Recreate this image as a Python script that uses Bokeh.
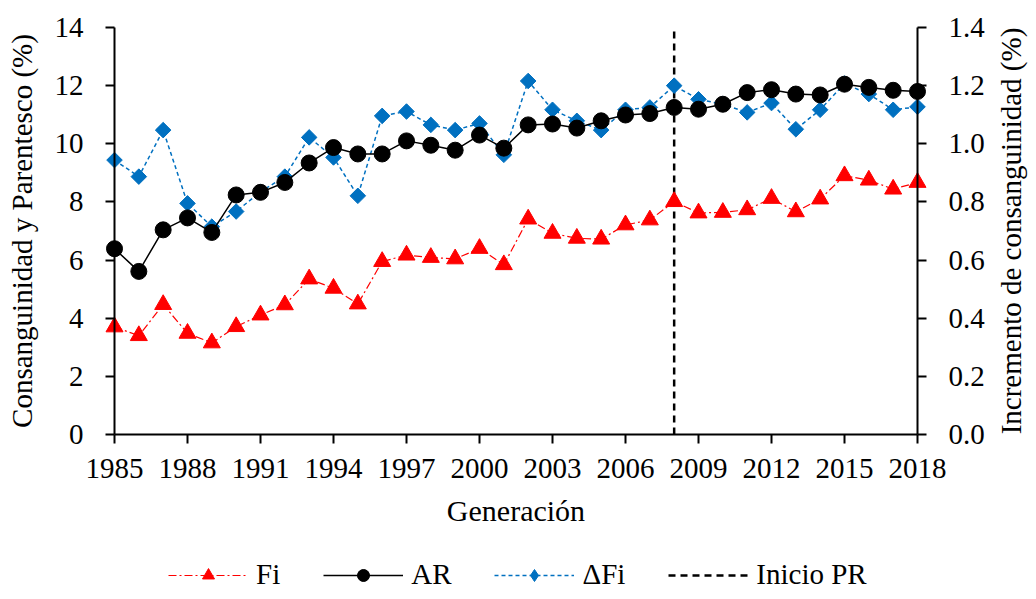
import math
from bokeh.plotting import figure
from bokeh.models import (Range1d, LinearAxis, FixedTicker, Legend, LegendItem,
                          NumeralTickFormatter, Label)
from bokeh.embed import file_html
from bokeh.resources import INLINE

# ---------------- data ----------------
years = list(range(1985, 2019))
fi = [3.70, 3.40, 4.47, 3.48, 3.15, 3.71, 4.11, 4.46, 5.35, 5.03, 4.49, 5.95,
      6.17, 6.09, 6.04, 6.40, 5.84, 7.41, 6.92, 6.75, 6.72, 7.21, 7.38, 8.01,
      7.62, 7.64, 7.73, 8.12, 7.66, 8.10, 8.90, 8.75, 8.44, 8.67]
ar = [6.39, 5.61, 7.04, 7.45, 6.95, 8.24, 8.33, 8.67, 9.34, 9.87, 9.65, 9.65,
      10.10, 9.95, 9.78, 10.30, 9.85, 10.65, 10.68, 10.54, 10.79, 10.99, 11.04, 11.25,
      11.19, 11.36, 11.76, 11.86, 11.71, 11.68, 12.05, 11.94, 11.84, 11.80]
dfi = [0.944, 0.887, 1.047, 0.795, 0.715, 0.767, 0.835, 0.887, 1.022, 0.953, 0.821, 1.096,
       1.111, 1.065, 1.047, 1.070, 0.962, 1.216, 1.117, 1.079, 1.047, 1.117, 1.125, 1.200,
       1.153, 1.136, 1.108, 1.140, 1.050, 1.117, 1.207, 1.171, 1.117, 1.127]
inicio_pr = 2008
x_ticks = list(range(1985, 2019, 3))
left_ticks = [0, 2, 4, 6, 8, 10, 12, 14]
right_ticks = [0.0, 0.2, 0.4, 0.6, 0.8, 1.0, 1.2, 1.4]
left_lim = (0, 14)
right_lim = (0.0, 1.4)
x_lim = (1985, 2018)
labels = ["Fi", "AR", "\u0394Fi", "Inicio PR"]
x_title = "Generación"
left_title = "Consanguinidad y Parentesco (%)"
right_title = "Incremento de consanguinidad (%)"

FONT = "Liberation Serif"
RED = "#FF0000"
BLUE = "#0070C0"

# ---------------- layout (pixels on the canvas) ----------------
W, H = 1028, 591
ax_left_px, ax_right_px = 114, 917      # canvas x of 1985 and 2018
ax_top_px, ax_bottom_px = 27, 434       # canvas y of 14 and 0

xs = (ax_right_px - ax_left_px) / (x_lim[1] - x_lim[0])
ys = (ax_bottom_px - ax_top_px) / (left_lim[1] - left_lim[0])
x_range = Range1d(x_lim[0] - ax_left_px / xs, x_lim[1] + (W - ax_right_px) / xs)
y_range = Range1d(left_lim[0] - (H - ax_bottom_px) / ys, left_lim[1] + ax_top_px / ys)
k = (right_lim[1] - right_lim[0]) / (left_lim[1] - left_lim[0])
r_range = Range1d(y_range.start * k, y_range.end * k)

p = figure(width=W, height=H, output_backend="svg", toolbar_location=None,
           x_range=x_range, y_range=y_range, min_border=0,
           background_fill_color="white", border_fill_color="white",
           outline_line_color=None)
p.xgrid.visible = False
p.ygrid.visible = False
p.extra_y_ranges = {"right": r_range}


def style_axis(ax, standoff, label_standoff, title_size="29px"):
    ax.axis_line_width = 2
    ax.axis_line_color = "black"
    ax.major_tick_line_width = 2
    ax.major_tick_line_color = "black"
    ax.major_tick_out = 9
    ax.major_tick_in = 0
    ax.minor_tick_out = 0
    ax.minor_tick_in = 0
    ax.minor_tick_line_color = None
    ax.major_label_text_font = FONT
    ax.major_label_text_font_size = "29px"
    ax.major_label_text_color = "black"
    ax.major_label_standoff = standoff
    ax.axis_label_text_font = FONT
    ax.axis_label_text_font_size = title_size
    ax.axis_label_text_font_style = "normal"
    ax.axis_label_text_color = "black"
    ax.axis_label_standoff = label_standoff


xa = p.xaxis[0]
xa.ticker = FixedTicker(ticks=x_ticks)
xa.fixed_location = left_lim[0]
xa.bounds = x_lim
xa.axis_label = x_title
style_axis(xa, 15, 13, title_size="30px")

ya = p.yaxis[0]
ya.ticker = FixedTicker(ticks=left_ticks)
ya.fixed_location = x_lim[0]
ya.bounds = left_lim
ya.axis_label = left_title
style_axis(ya, 22, 14)

ra = LinearAxis(y_range_name="right", fixed_location=x_lim[1],
                ticker=FixedTicker(ticks=right_ticks), bounds=right_lim,
                formatter=NumeralTickFormatter(format="0.0"))
style_axis(ra, 22, 0)
p.add_layout(ra, "right")

p.add_layout(Label(x=1010, y=H - (ax_top_px + ax_bottom_px) / 2,
                   x_units="screen", y_units="screen", text=right_title,
                   angle=math.pi / 2, text_align="center", text_baseline="middle",
                   text_font=FONT, text_font_size="29px", text_color="black"))

# ---------------- series ----------------
pr_line = p.line(x=[inicio_pr, inicio_pr], y=list(left_lim), line_color="black",
                 line_width=2.5, line_dash="7 5")

fi_line = p.line(years, fi, line_color=RED, line_width=1.2, line_dash="8 3 2 3")
fi_pts = p.scatter(years, fi, marker="triangle", size=17, fill_color=RED,
                   line_color=RED)

dfi_line = p.line(years, dfi, y_range_name="right", line_color=BLUE,
                  line_width=1.5, line_dash="4 3")
dfi_pts = p.scatter(years, dfi, y_range_name="right", marker="square",
                    angle=0.785398, size=11, fill_color=BLUE, line_color=BLUE)
# diamond used only for the legend key
dfi_key = p.scatter(years, dfi, y_range_name="right", marker="diamond",
                    size=18, fill_color=BLUE, line_color=BLUE, visible=False)

ar_line = p.line(years, ar, line_color="black", line_width=1.5)
ar_pts = p.scatter(years, ar, marker="circle", size=16, fill_color="black",
                   line_color="black")

legend = Legend(items=[
    LegendItem(label=labels[0], renderers=[fi_line, fi_pts]),
    LegendItem(label=labels[1], renderers=[ar_line, ar_pts]),
    LegendItem(label=labels[2], renderers=[dfi_line, dfi_key]),
    LegendItem(label=labels[3], renderers=[pr_line]),
], orientation="horizontal", location=(168, 0))
legend.label_text_font = FONT
legend.label_text_font_size = "29px"
legend.label_text_color = "black"
legend.glyph_width = 80
legend.glyph_height = 30
legend.label_standoff = 8
legend.spacing = 43
legend.border_line_color = None
legend.background_fill_alpha = 0
legend.inactive_fill_alpha = 0
legend.margin = 0
legend.padding = 1
p.add_layout(legend, "center")

open("out.html", "w").write(file_html(p, INLINE))
